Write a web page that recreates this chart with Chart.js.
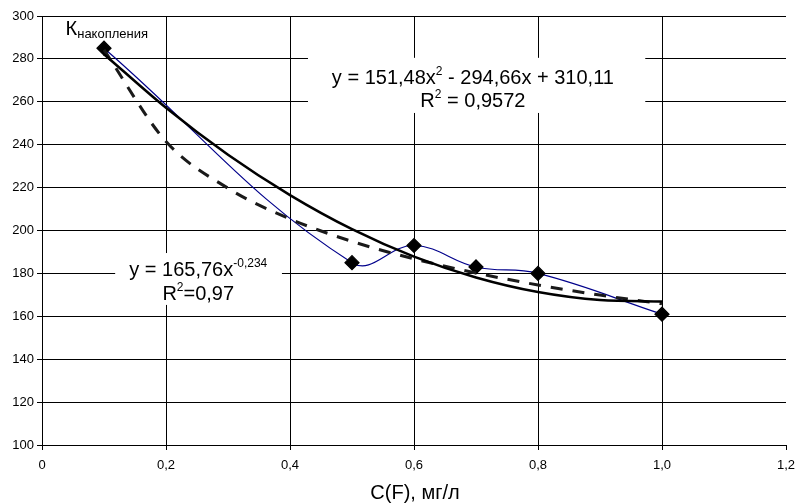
<!DOCTYPE html>
<html>
<head>
<meta charset="utf-8">
<script src="https://cdn.jsdelivr.net/npm/chart.js@4"></script>
<style>
  body { margin: 0; background: #fff; }
  #wrap { width: 797px; height: 504px; }
</style>
</head>
<body>
<div id="wrap"><canvas id="kchart"></canvas></div>
<script>
// measured points
const xPoints = [0.1, 0.5, 0.6, 0.7, 0.8, 1.0];
const kValues = [285, 185, 193, 183, 180, 161];

// trend lines
const trendX = [0.1, 0.2, 0.3, 0.4, 0.5, 0.6, 0.7, 0.8, 0.9, 1.0];
const polyTrend = [282.2, 257.2, 235.3, 216.5, 200.6, 187.8, 178.1, 171.3, 167.6, 166.9];
const powerTrend = [284.2, 241.5, 219.7, 205.4, 194.9, 186.8, 180.2, 174.6, 169.9, 165.8];

const xTicks = [0, 0.2, 0.4, 0.6, 0.8, 1.0, 1.2];
const yMin = 100, yMax = 300, yStep = 20;

const FONT = '"Liberation Sans", Arial, sans-serif';

function pts(xs, ys) {
  return xs.map((x, i) => ({ x: x, y: ys[i] }));
}

// text with sub/superscripts, centred
function drawRuns(ctx, runs, cx, y) {
  let total = 0;
  runs.forEach(r => {
    ctx.font = r.f + 'px ' + FONT;
    r.w = ctx.measureText(r.t).width;
    total += r.w;
  });
  let x = cx - total / 2;
  runs.forEach(r => {
    ctx.font = r.f + 'px ' + FONT;
    ctx.fillText(r.t, x, y + (r.dy || 0));
    x += r.w;
  });
}

const labelsPlugin = {
  id: 'labels',
  beforeDatasetsDraw(chart) {
    const ctx = chart.ctx;
    const xs = chart.scales.x, ys = chart.scales.y;
    ctx.save();
    ctx.textBaseline = 'alphabetic';
    ctx.textAlign = 'left';

    // white boxes behind the equations
    ctx.fillStyle = '#fff';
    ctx.fillRect(xs.getPixelForValue(0.429), ys.getPixelForValue(280.5), xs.getPixelForValue(0.973) - xs.getPixelForValue(0.429), ys.getPixelForValue(254.8) - ys.getPixelForValue(280.5));
    ctx.fillRect(xs.getPixelForValue(0.118), ys.getPixelForValue(189.5), xs.getPixelForValue(0.387) - xs.getPixelForValue(0.118), ys.getPixelForValue(165.3) - ys.getPixelForValue(189.5));

    ctx.fillStyle = '#000';
    const px = xs.getPixelForValue(0.695);
    drawRuns(ctx, [
      { t: 'y = 151,48x', f: 20 },
      { t: '2', f: 12, dy: -9 },
      { t: ' - 294,66x + 310,11', f: 20 }
    ], px, ys.getPixelForValue(268.5));
    drawRuns(ctx, [
      { t: 'R', f: 20 },
      { t: '2', f: 12, dy: -9 },
      { t: ' = 0,9572', f: 20 }
    ], px, ys.getPixelForValue(257.8));

    const qx = xs.getPixelForValue(0.252);
    drawRuns(ctx, [
      { t: 'y = 165,76x', f: 20 },
      { t: '-0,234', f: 12, dy: -9 }
    ], qx, ys.getPixelForValue(179));
    drawRuns(ctx, [
      { t: 'R', f: 20 },
      { t: '2', f: 12, dy: -9 },
      { t: '=0,97', f: 20 }
    ], qx, ys.getPixelForValue(167.8));

    // K label
    ctx.font = '20px ' + FONT;
    const kx = xs.getPixelForValue(0.038);
    const ky = ys.getPixelForValue(291.1);
    ctx.fillText('К', kx, ky);
    const kw = ctx.measureText('К').width;
    ctx.font = '13px ' + FONT;
    ctx.fillText('накопления', kx + kw, ky + 3);

    // axis title
    ctx.font = '20px ' + FONT;
    ctx.textAlign = 'center';
    ctx.textBaseline = 'middle';
    ctx.fillText('C(F), мг/л', (xs.left + xs.right) / 2 + 1, 493);
    ctx.restore();
  }
};

new Chart(document.getElementById('kchart'), {
  type: 'line',
  data: {
    datasets: [
      {
        label: 'poly',
        data: pts(trendX, polyTrend),
        borderColor: '#000',
        borderWidth: 2.5,
        pointRadius: 0,
        cubicInterpolationMode: 'monotone',
        fill: false
      },
      {
        label: 'power',
        data: pts(trendX, powerTrend),
        borderColor: '#1a1a1a',
        borderWidth: 3,
        borderDash: [12, 10],
        pointRadius: 0,
        cubicInterpolationMode: 'monotone',
        fill: false
      },
      {
        label: 'K',
        data: pts(xPoints, kValues),
        borderColor: '#00008b',
        borderWidth: 1.2,
        tension: 0.4,
        pointStyle: 'rectRot',
        pointRadius: 7,
        pointBackgroundColor: '#000',
        pointBorderColor: '#000',
        fill: false
      }
    ]
  },
  options: {
    responsive: true,
    maintainAspectRatio: false,
    animation: false,
    layout: { padding: { top: 16, right: 11, left: 0, bottom: 0 } },
    plugins: {
      legend: { display: false },
      tooltip: { enabled: false }
    },
    scales: {
      x: {
        type: 'linear',
        min: 0,
        max: 1.2,
        afterBuildTicks: s => { s.ticks = xTicks.map(v => ({ value: v })); },
        afterFit: s => { s.height = 59; s.paddingRight = 0; s.paddingLeft = 0; },
        grid: {
          color: c => (c.tick && c.tick.value > 1.1) ? 'rgba(0,0,0,0)' : '#000',
          tickColor: '#000',
          lineWidth: 1,
          tickLength: 5
        },
        border: { color: '#000', width: 1 },
        ticks: {
          color: '#000',
          padding: 8,
          maxRotation: 0,
          font: { family: FONT, size: 13 },
          callback: v => v === 0 ? '0' : v.toFixed(1).replace('.', ',')
        }
      },
      y: {
        min: yMin,
        max: yMax,
        afterFit: s => { s.width = 42; },
        grid: { color: '#000', tickColor: '#000', lineWidth: 1, tickLength: 5 },
        border: { color: '#000', width: 1 },
        ticks: {
          stepSize: yStep,
          color: '#000',
          padding: 3,
          font: { family: FONT, size: 13 }
        }
      }
    }
  },
  plugins: [labelsPlugin]
});
</script>
</body>
</html>
